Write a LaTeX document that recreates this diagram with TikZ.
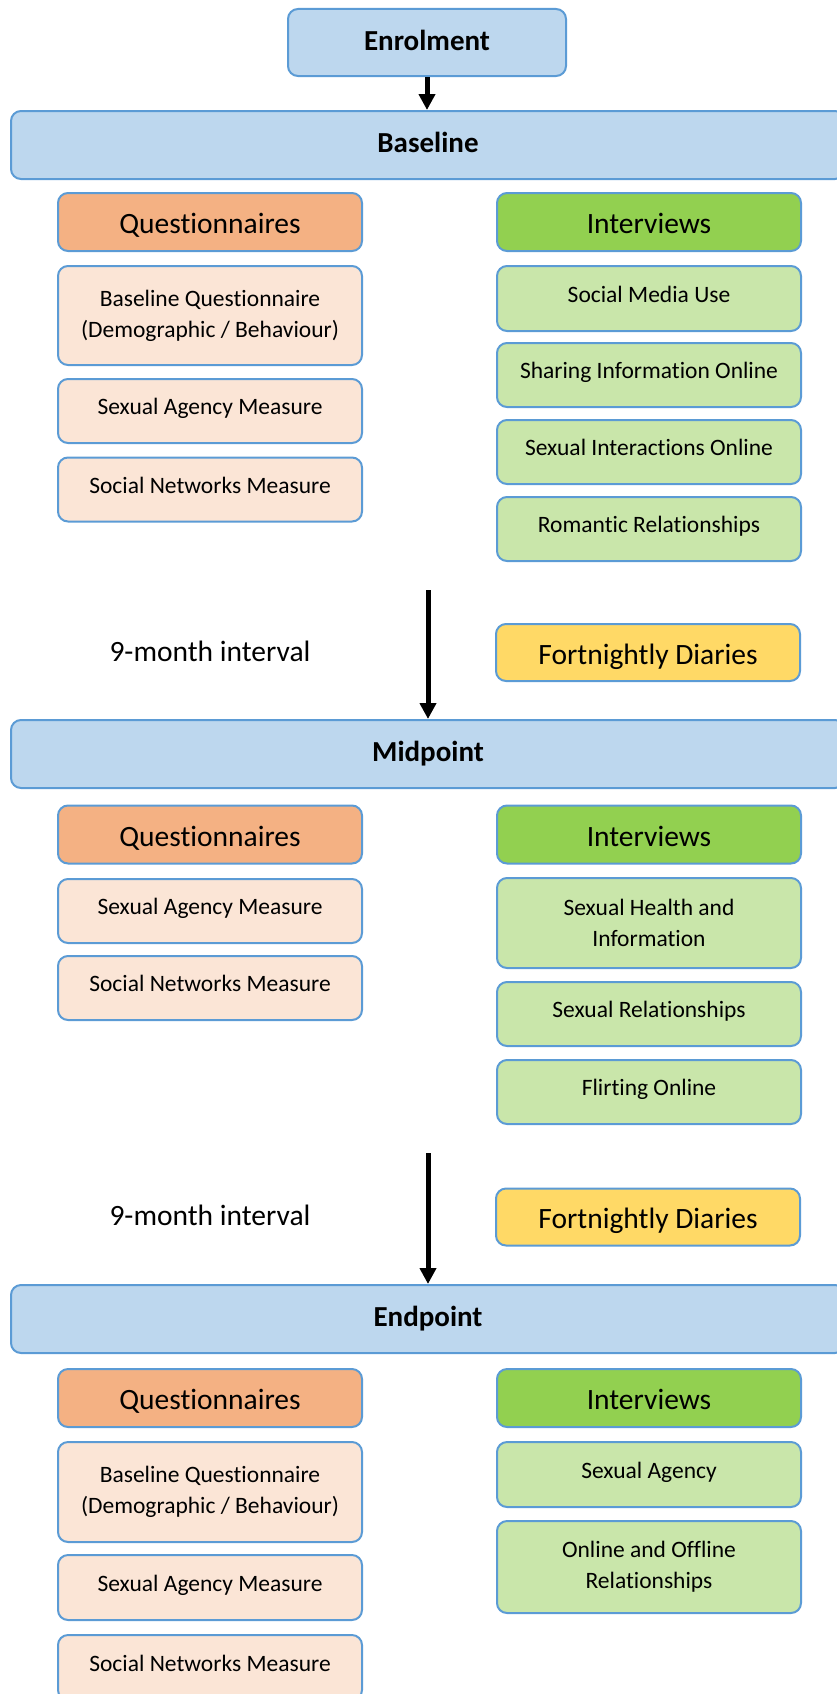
\documentclass[tikz,border=0pt]{standalone}
\usepackage{fontspec}
\setmainfont[Ligatures=NoCommon]{Carlito}
\usetikzlibrary{arrows.meta}

\definecolor{edgeblue}{HTML}{5B9BD5}
\definecolor{barfill}{HTML}{BDD7EE}
\definecolor{qhead}{HTML}{F4B183}
\definecolor{qitem}{HTML}{FBE5D6}
\definecolor{ihead}{HTML}{92D050}
\definecolor{iitem}{HTML}{C9E6AA}
\definecolor{diary}{HTML}{FFD966}

\tikzset{
  box/.style={draw=edgeblue, line width=2pt, rounded corners=10pt,
    align=center, inner sep=0pt, minimum width=304pt},
  % single-line texts get a fixed height and depth so that all baselines sit alike
  oneline/.style={text height=16pt, text depth=9pt},
  bigline/.style={text height=24pt, text depth=1pt},
  titleline/.style={text height=20pt, text depth=4.5pt},
  phase/.style={box, titleline, fill=barfill, minimum width=834pt, minimum height=68pt,
    font=\fontsize{29}{35}\selectfont\bfseries},
  starter/.style={box, titleline, fill=barfill, minimum width=278pt, minimum height=67pt,
    font=\fontsize{29}{35}\selectfont\bfseries},
  qheader/.style={box, bigline, fill=qhead, minimum height=58pt,
    font=\fontsize{29.5}{35}\selectfont},
  iheader/.style={box, bigline, fill=ihead, minimum height=58pt,
    font=\fontsize{29.5}{35}\selectfont},
  qentry/.style={box, fill=qitem, minimum height=64pt,
    font=\fontsize{23.5}{31}\selectfont},
  ientry/.style={box, fill=iitem, minimum height=64pt,
    font=\fontsize{23.5}{31}\selectfont},
  diarybox/.style={box, bigline, fill=diary, minimum height=57pt,
    font=\fontsize{29.5}{35}\selectfont},
  gaplabel/.style={font=\fontsize{29.5}{35}\selectfont, inner sep=0pt},
  arr/.style={line width=5pt, -{Triangle[length=16pt,width=16pt]}},
}

\begin{document}
\begin{tikzpicture}[x=1pt, y=-1pt]
  \useasboundingbox (0,0) rectangle (837,1694);
  \clip (0,0) rectangle (837,1694);

  % enrolment and baseline
  \node[starter] (enrol) at (427,42.5) {Enrolment};
  \node[phase] (base) at (428,145) {Baseline};

  \node[qheader] (bq) at (210,222) {Questionnaires};
  \node[qentry, minimum height=99pt] (bq1) at (210,315.5) {Baseline Questionnaire\\(Demographic / Behaviour)};
  \node[qentry, oneline] (bq2) at (210,411) {Sexual Agency Measure};
  \node[qentry, oneline] (bq3) at (210,489.5) {Social Networks Measure};

  \node[iheader] (bi) at (649,222) {Interviews};
  \node[ientry, oneline, minimum height=65pt] (bi1) at (649,298.5) {Social Media Use};
  \node[ientry, oneline] (bi2) at (649,375) {Sharing Information Online};
  \node[ientry, oneline] (bi3) at (649,452) {Sexual Interactions Online};
  \node[ientry, oneline] (bi4) at (649,529) {Romantic Relationships};

  % first interval
  \coordinate (gap1) at (428,590);
  \node[gaplabel] (int1) at (210,651) {9-month interval};
  \node[diarybox] (diary1) at (648,652.5) {Fortnightly Diaries};

  % midpoint
  \node[phase] (mid) at (428,754) {Midpoint};

  \node[qheader] (mq) at (210,834.5) {Questionnaires};
  \node[qentry, oneline] (mq1) at (210,911) {Sexual Agency Measure};
  \node[qentry, oneline] (mq2) at (210,988) {Social Networks Measure};

  \node[iheader] (mi) at (649,834.5) {Interviews};
  \node[ientry, minimum height=90pt] (mi1) at (649,923) {Sexual Health and\\Information};
  \node[ientry, oneline] (mi2) at (649,1014) {Sexual Relationships};
  \node[ientry, oneline] (mi3) at (649,1092) {Flirting Online};

  % second interval
  \coordinate (gap2) at (428,1153);
  \node[gaplabel] (int2) at (210,1215) {9-month interval};
  \node[diarybox] (diary2) at (648,1217) {Fortnightly Diaries};

  % endpoint
  \node[phase] (endp) at (428,1319) {Endpoint};

  \node[qheader] (eq) at (210,1398) {Questionnaires};
  \node[qentry, minimum height=100pt] (eq1) at (210,1492) {Baseline Questionnaire\\(Demographic / Behaviour)};
  \node[qentry, oneline, minimum height=65pt] (eq2) at (210,1587.5) {Sexual Agency Measure};
  \node[qentry, oneline, minimum height=65pt] (eq3) at (210,1667.5) {Social Networks Measure};

  \node[iheader] (ei) at (649,1398) {Interviews};
  \node[ientry, oneline, minimum height=65pt] (ei1) at (649,1474.5) {Sexual Agency};
  \node[ientry, minimum height=92pt] (ei2) at (649,1567) {Online and Offline\\Relationships};

  % timeline arrows
  \draw[arr] (enrol.south) -- (enrol.south |- base.north);
  \draw[arr] (gap1) -- (mid.north);
  \draw[arr] (gap2) -- (endp.north);
\end{tikzpicture}
\end{document}
